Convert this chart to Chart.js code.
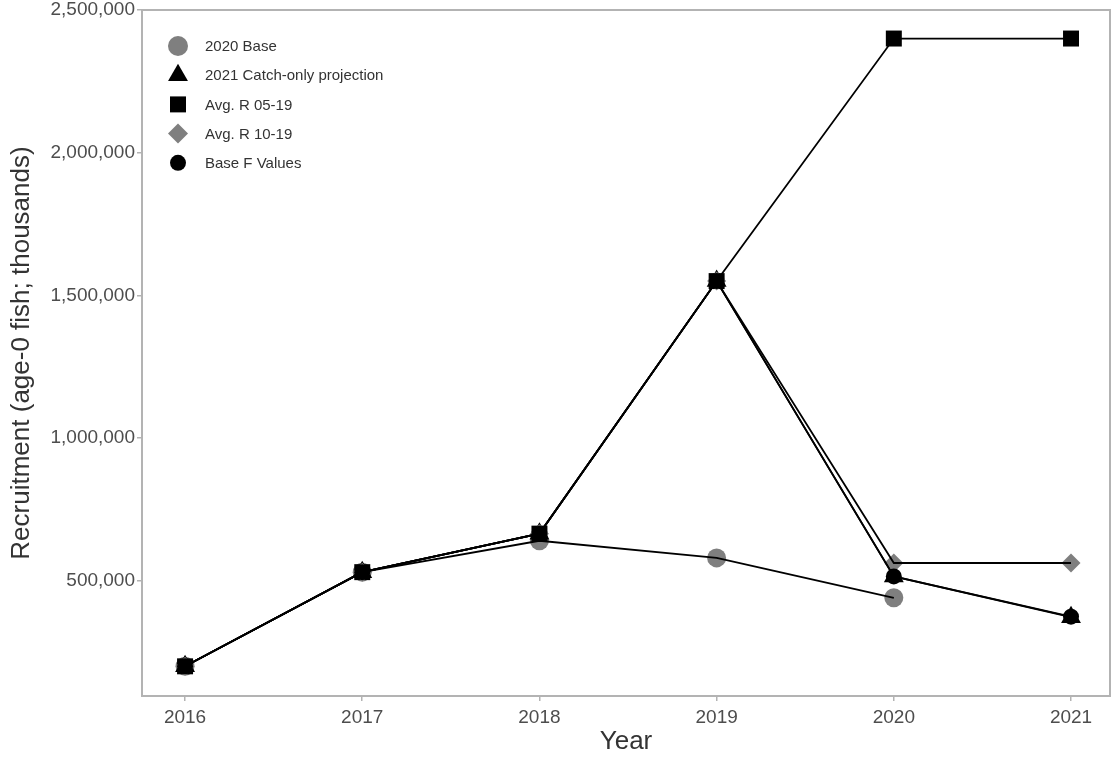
<!DOCTYPE html>
<html>
<head>
<meta charset="utf-8">
<script src="https://cdn.jsdelivr.net/npm/chart.js@4/dist/chart.umd.min.js"></script>
<style>
  html, body { margin: 0; padding: 0; background: #ffffff; }
  #wrap { width: 1111px; height: 757px; }
</style>
</head>
<body>
<div id="wrap"><canvas id="chart" width="1111" height="757"></canvas></div>
<script>
// Recruitment by year under each projection scenario
const years = [2016, 2017, 2018, 2019, 2020, 2021];
const base2020 = [200000, 530000, 640000, 580000, 440000];
const catchOnly2021 = [200000, 530000, 665000, 1550000, 515000, 372000];
const avgR0519 = [200000, 530000, 665000, 1550000, 2400000, 2400000];
const avgR1019 = [200000, 530000, 665000, 1550000, 562000, 562000];
const baseF = [200000, 530000, 665000, 1550000, 515000, 374000];

const yTicks = [500000, 1000000, 1500000, 2000000, 2500000];
const xTicks = [2016, 2017, 2018, 2019, 2020, 2021];

const GREY = '#7f7f7f';
const series = [
  { label: '2020 Base', values: base2020, style: 'circle', radius: 9.5, color: GREY, order: 5, legendRadius: 10 },
  { label: '2021 Catch-only projection', values: catchOnly2021, style: 'triangle', radius: 11.5, color: '#000000', order: 4, legendRadius: 11.5 },
  { label: 'Avg. R 05-19', values: avgR0519, style: 'rect', radius: 11.3, color: '#000000', order: 3, legendRadius: 11.3 },
  { label: 'Avg. R 10-19', values: avgR1019, style: 'rectRot', radius: 9.5, color: GREY, order: 2, legendRadius: 10 },
  { label: 'Base F Values', values: baseF, style: 'circle', radius: 8, color: '#000000', order: 1, legendRadius: 8 }
];

const toXY = vals => vals.map((v, i) => ({ x: years[i], y: v }));

// markers underneath, connecting lines on top
const datasets = [];
series.forEach(s => {
  datasets.push({
    label: s.label,
    data: toXY(s.values),
    showLine: false,
    pointStyle: s.style,
    pointRadius: s.radius,
    pointHoverRadius: s.radius,
    pointBackgroundColor: s.color,
    pointBorderColor: s.color,
    pointBorderWidth: 0,
    clip: false,
    order: s.order
  });
});
series.forEach(s => {
  datasets.push({
    label: s.label + ' line',
    data: toXY(s.values),
    showLine: true,
    borderColor: '#000000',
    borderWidth: 1.8,
    pointRadius: 0,
    pointHoverRadius: 0,
    fill: false,
    tension: 0,
    clip: false,
    order: 0
  });
});

const AXIS_GREY = '#b3b3b3';
const FONT = '"Liberation Sans", Arial, sans-serif';

// grey panel frame around the plotting region
const framePlugin = {
  id: 'panelFrame',
  beforeDatasetsDraw(chart) {
    const { ctx, chartArea: a } = chart;
    ctx.save();
    ctx.strokeStyle = AXIS_GREY;
    ctx.lineWidth = 2;
    ctx.strokeRect(a.left, a.top, a.right - a.left, a.bottom - a.top);
    ctx.restore();
  }
};

function drawMarker(ctx, style, r, x, y, color) {
  ctx.save();
  ctx.fillStyle = color;
  ctx.beginPath();
  if (style === 'circle') {
    ctx.arc(x, y, r, 0, Math.PI * 2);
  } else if (style === 'triangle') {
    ctx.moveTo(x, y - r);
    ctx.lineTo(x + r * Math.sin(Math.PI * 2 / 3), y - r * Math.cos(Math.PI * 2 / 3));
    ctx.lineTo(x + r * Math.sin(Math.PI * 4 / 3), y - r * Math.cos(Math.PI * 4 / 3));
    ctx.closePath();
  } else if (style === 'rect') {
    const h = Math.SQRT1_2 * r;
    ctx.rect(x - h, y - h, 2 * h, 2 * h);
  } else if (style === 'rectRot') {
    ctx.moveTo(x, y - r);
    ctx.lineTo(x + r, y);
    ctx.lineTo(x, y + r);
    ctx.lineTo(x - r, y);
    ctx.closePath();
  }
  ctx.fill();
  ctx.restore();
}

// key placed inside the panel, upper left
const keyPlugin = {
  id: 'insideKey',
  afterDraw(chart) {
    const { ctx } = chart;
    const x0 = 178, textX = 205, y0 = 46, step = 29.2;
    ctx.save();
    ctx.font = '15px ' + FONT;
    ctx.textBaseline = 'middle';
    ctx.textAlign = 'left';
    series.forEach((s, i) => {
      const y = y0 + i * step;
      drawMarker(ctx, s.style, s.legendRadius, x0, y, s.color);
      ctx.fillStyle = '#333333';
      ctx.fillText(s.label, textX, y + 1);
    });
    ctx.restore();
  }
};

new Chart(document.getElementById('chart'), {
  type: 'line',
  data: { datasets },
  options: {
    responsive: false,
    animation: false,
    events: [],
    layout: { autoPadding: false, padding: { top: 10, right: 1, bottom: 0, left: 0 } },
    plugins: {
      legend: { display: false },
      tooltip: { enabled: false }
    },
    scales: {
      x: {
        type: 'linear',
        min: 2015.757,
        max: 2021.22,
        afterBuildTicks: scale => { scale.ticks = xTicks.map(v => ({ value: v })); },
        afterFit: scale => { scale.height = 61; scale.paddingLeft = 0; scale.paddingRight = 0; },
        border: { display: false },
        grid: { display: true, drawOnChartArea: false, drawTicks: true, tickLength: 5, color: AXIS_GREY, lineWidth: 1.5 },
        ticks: {
          padding: 5,
          color: '#4d4d4d',
          font: { family: FONT, size: 19 },
          maxRotation: 0,
          autoSkip: false,
          callback: v => String(v)
        },
        title: {
          display: true,
          text: 'Year',
          color: '#333333',
          font: { family: FONT, size: 26 },
          padding: { top: 0, bottom: 0 }
        }
      },
      y: {
        type: 'linear',
        min: 96000,
        max: 2500000,
        afterBuildTicks: scale => { scale.ticks = yTicks.map(v => ({ value: v })); },
        afterFit: scale => { scale.width = 142; scale.paddingTop = 0; scale.paddingBottom = 0; },
        border: { display: false },
        grid: { display: true, drawOnChartArea: false, drawTicks: true, tickLength: 5, color: AXIS_GREY, lineWidth: 1.5 },
        ticks: {
          padding: 2,
          color: '#4d4d4d',
          font: { family: FONT, size: 19 },
          autoSkip: false,
          callback: v => v.toLocaleString('en-US')
        },
        title: {
          display: true,
          text: 'Recruitment (age-0 fish; thousands)',
          color: '#333333',
          font: { family: FONT, size: 26 },
          padding: { top: 6, bottom: 0 }
        }
      }
    }
  },
  plugins: [framePlugin, keyPlugin]
});
</script>
</body>
</html>
